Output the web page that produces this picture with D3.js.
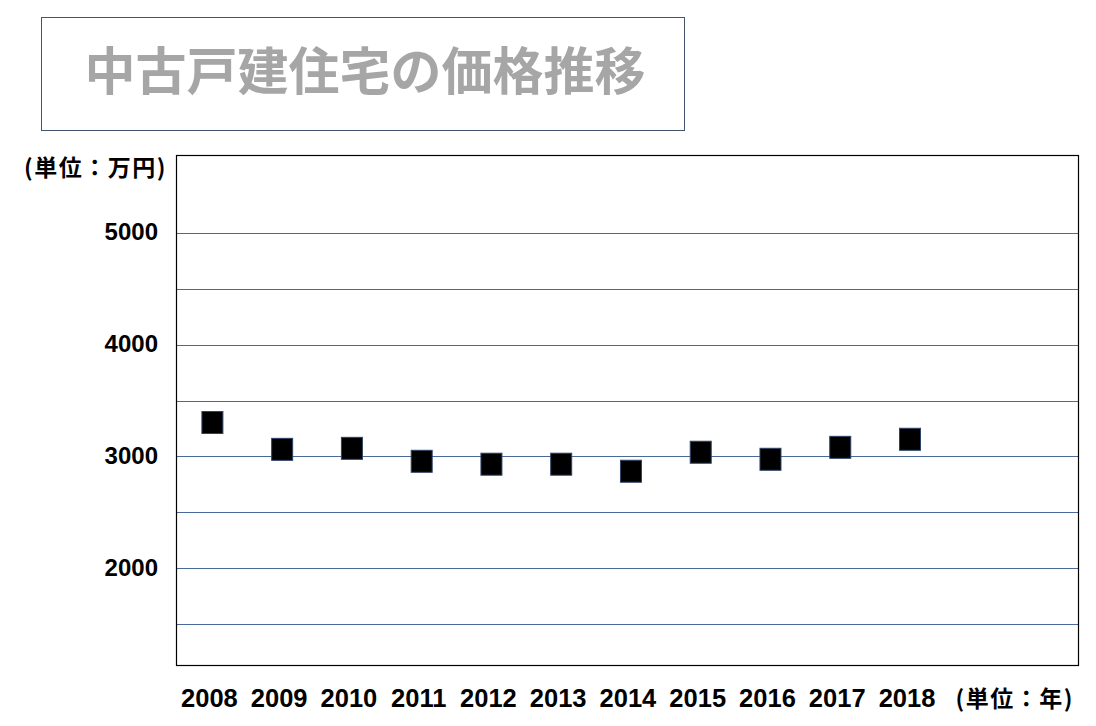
<!DOCTYPE html>
<html>
<head>
<meta charset="utf-8">
<script src="https://cdn.jsdelivr.net/npm/d3@7"></script>
<style>
  body { margin: 0; background: #fff; }
  text { font-family: "Liberation Sans", Arial, "Noto Sans CJK JP", sans-serif; font-weight: bold; }
  .jp { font-family: "Noto Sans CJK JP", sans-serif; }
</style>
</head>
<body>
<script>
// data
var years = [2008, 2009, 2010, 2011, 2012, 2013, 2014, 2015, 2016, 2017, 2018];
var prices = [3303, 3063, 3072, 2956, 2930, 2930, 2867, 3037, 2974, 3081, 3153];
var gridValues = [1500, 2000, 2500, 3000, 3500, 4000, 4500, 5000];
var tickValues = [2000, 3000, 4000, 5000];
var title = "中古戸建住宅の価格推移";
var yUnit = "(単位：万円)";
var xUnit = "(単位：年)";

var width = 1096, height = 726;

var svg = d3.select("body").append("svg")
  .attr("width", width)
  .attr("height", height);

// title box
svg.append("rect")
  .attr("x", 41.5)
  .attr("y", 17.5)
  .attr("width", 643)
  .attr("height", 113)
  .attr("fill", "none")
  .attr("stroke", "#44546a")
  .attr("stroke-width", 1);

svg.append("text")
  .attr("class", "jp")
  .attr("x", 365)
  .attr("y", 90)
  .attr("text-anchor", "middle")
  .attr("font-size", 51)
  .attr("fill", "#a6a6a6")
  .text(title);

// scales
var x = d3.scaleLinear()
  .domain([2008, 2018])
  .range([212.4, 910]);

var y = d3.scaleLinear()
  .domain([1133, 5697])
  .range([665, 155]);

// gridlines
svg.append("g")
  .selectAll("line")
  .data(gridValues)
  .join("line")
  .attr("x1", 176)
  .attr("x2", 1078)
  .attr("y1", d => Math.round(y(d)) + 0.5)
  .attr("y2", d => Math.round(y(d)) + 0.5)
  .attr("stroke", "#4a6a9a")
  .attr("stroke-width", 1.2);

// plot frame
svg.append("rect")
  .attr("x", 176.5)
  .attr("y", 155.5)
  .attr("width", 902)
  .attr("height", 510)
  .attr("fill", "none")
  .attr("stroke", "#000")
  .attr("stroke-width", 1.2);

// y labels
svg.append("g")
  .selectAll("text")
  .data(tickValues)
  .join("text")
  .attr("x", 158)
  .attr("y", d => y(d) - 1)
  .attr("text-anchor", "end")
  .attr("dominant-baseline", "central")
  .attr("font-size", 24)
  .attr("fill", "#000")
  .text(d => d);

svg.append("text")
  .attr("class", "jp")
  .attr("x", 24)
  .attr("y", 176)
  .attr("font-size", 23)
  .attr("letter-spacing", 1.5)
  .attr("fill", "#000")
  .text(yUnit);

// points
var sq = 21;
svg.append("g")
  .selectAll("rect")
  .data(years)
  .join("rect")
  .attr("x", d => x(d) - sq / 2)
  .attr("y", (d, i) => y(prices[i]) - 11)
  .attr("width", sq)
  .attr("height", 22)
  .attr("fill", "#000")
  .attr("stroke", "#2f4468")
  .attr("stroke-width", 1);

// x labels
svg.append("g")
  .selectAll("text")
  .data(years)
  .join("text")
  .attr("x", d => x(d) - 3)
  .attr("y", 707)
  .attr("text-anchor", "middle")
  .attr("font-size", 25.5)
  .attr("fill", "#000")
  .text(d => d);

svg.append("text")
  .attr("class", "jp")
  .attr("x", 1074)
  .attr("y", 707)
  .attr("text-anchor", "end")
  .attr("font-size", 23)
  .attr("letter-spacing", 1.5)
  .attr("fill", "#000")
  .text(xUnit);
</script>
</body>
</html>
